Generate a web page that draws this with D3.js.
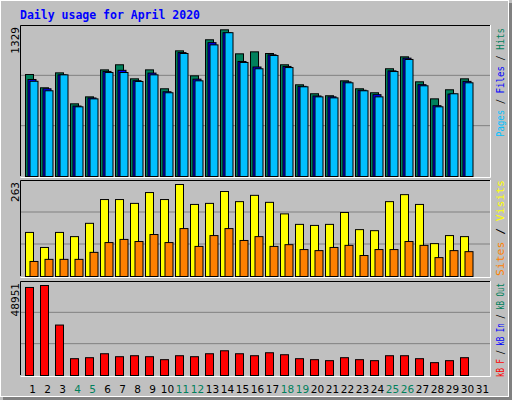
<!DOCTYPE html>
<html><head><meta charset="utf-8">
<script src="https://cdn.jsdelivr.net/npm/d3@7"></script>
<style>body{margin:0;background:#fff}</style>
</head><body>
<div id="chart"></div>
<script>
var days = d3.range(1, 32);
var weekend = [4,5,11,12,18,19,25,26];
var hits  = [922,802,937,657,720,964,1010,883,964,793,1136,910,1236,1326,1109,1127,1112,1010,829,748,730,865,793,757,974,1082,856,702,784,883];
var files = [877,793,919,637,710,950,960,866,935,766,1120,880,1210,1300,1040,990,1100,995,815,728,720,855,780,740,955,1070,830,640,745,860];
var pages = [861,775,919,630,702,940,940,859,919,757,1112,865,1190,1300,1031,974,1094,985,811,720,711,847,775,720,949,1058,820,630,748,847];
var visits = [126,83,126,114,152,220,220,209,240,220,263,206,209,243,214,232,212,179,149,146,149,183,134,131,214,234,206,94,117,114];
var sites  = [43,49,49,49,69,97,106,100,120,97,137,86,117,137,103,114,86,91,77,74,83,89,60,77,77,100,89,54,74,71];
var kbF = [47882,48951,27440,9146,9684,11836,10222,10760,10222,8608,10760,10222,11836,13450,11836,10760,12374,11298,9146,8608,8070,9684,8608,8070,10760,10760,9146,6994,8070,9684];

var W = 512, H = 400;
var svg = d3.select("#chart").append("svg").attr("width", W).attr("height", H);
svg.append("rect").attr("width", W).attr("height", H).attr("fill", "#c0c0c0");
svg.append("rect").attr("x", 0.5).attr("y", 0.5).attr("width", W - 4).attr("height", H - 4)
	.attr("fill", "none").attr("stroke", "#fff");
svg.append("rect").attr("x", W - 3).attr("y", 3).attr("width", 3).attr("height", H - 3).attr("fill", "#808080");
svg.append("rect").attr("x", 3).attr("y", H - 3).attr("width", W - 3).attr("height", 3).attr("fill", "#808080");

svg.append("text").attr("x", 20).attr("y", 19)
	.attr("font-family", "DejaVu Sans Mono").attr("font-weight", "bold").attr("font-size", "11.5px")
	.attr("fill", "#0000ff").text("Daily usage for April 2020");

var x = d3.scaleBand().domain(days).range([23, 488]);
var bw = 8;
var mono = "DejaVu Sans Mono";

function panel(top, bottom, max, label) {
	var y = d3.scaleLinear().domain([0, max]).range([bottom, top + 4]);
	var g = svg.append("g");
	var step = (bottom - top) / 3;
	[1, 2].forEach(function(k){
		g.append("line").attr("x1", 21).attr("x2", 490).attr("y1", bottom - k*step).attr("y2", bottom - k*step)
			.attr("stroke", "#808080");
	});
	g.append("path").attr("d", "M20.5," + bottom + "V" + top + ".5H490.5").attr("fill","none").attr("stroke","#000");
	g.append("path").attr("d", "M20.5," + (bottom+1) + ".5H490.5V" + top).attr("fill","none").attr("stroke","#fff");
	g.append("text").attr("transform", "translate(19," + (top + 2) + ") rotate(-90)")
		.attr("text-anchor", "end").attr("font-family", "DejaVu Sans").attr("font-size", "10.5px")
		.attr("fill", "#000").text(label);
	return { g: g, y: y, bottom: bottom };
}

function bars(p, data, off, color) {
	p.g.selectAll(null).data(data).enter().append("rect")
		.attr("x", function(d, i){ return x(i + 1) + 2.5 + off; })
		.attr("y", function(d){ return p.y(d) + 0.5; })
		.attr("width", bw)
		.attr("height", function(d){ return Math.max(0, p.bottom - p.y(d)); })
		.attr("fill", color).attr("stroke", "#000");
}

var p1 = panel(25, 176, 1329, "1329");
bars(p1, hits, 0, "#00805c");
bars(p1, files, 2.5, "#0000ff");
bars(p1, pages, 4.5, "#00c0ff");

var p2 = panel(180, 276, 263, "263");
bars(p2, visits, 0, "#ffff00");
bars(p2, sites, 4.5, "#ff8000");

var p3 = panel(281, 375, 48951, "48951");
bars(p3, kbF, 0, "#ff0000");

svg.append("g").selectAll("text").data(days).enter().append("text")
	.attr("x", function(d){ return x(d) + x.bandwidth()/2 + 2; })
	.attr("y", 393).attr("text-anchor", "middle")
	.attr("font-family", "DejaVu Sans").attr("font-size", "10.5px")
	.attr("fill", function(d){ return weekend.indexOf(d) >= 0 ? "#00805c" : "#000"; })
	.text(function(d){ return d; });

function legend(top, len, parts) {
	var t = svg.append("text").attr("transform", "translate(504," + (top + len) + ") rotate(-90)")
		.attr("font-family", mono).attr("font-size", "10.5px")
		.attr("textLength", len).attr("lengthAdjust", "spacingAndGlyphs");
	parts.forEach(function(p){ t.append("tspan").attr("fill", p[1]).text(p[0]); });
}
legend(28, 109, [["Pages", "#00c0ff"], [" / ", "#000"], ["Files", "#0000ff"], [" / ", "#000"], ["Hits", "#00805c"]]);
legend(180, 96, [["Sites", "#ff8000"], [" / ", "#000"], ["Visits", "#ffff00"]]);
legend(283, 94, [["kB F", "#ff0000"], [" / ", "#000"], ["kB In", "#0000ff"], [" / ", "#000"], ["kB Out", "#00805c"]]);
</script>
</body></html>
